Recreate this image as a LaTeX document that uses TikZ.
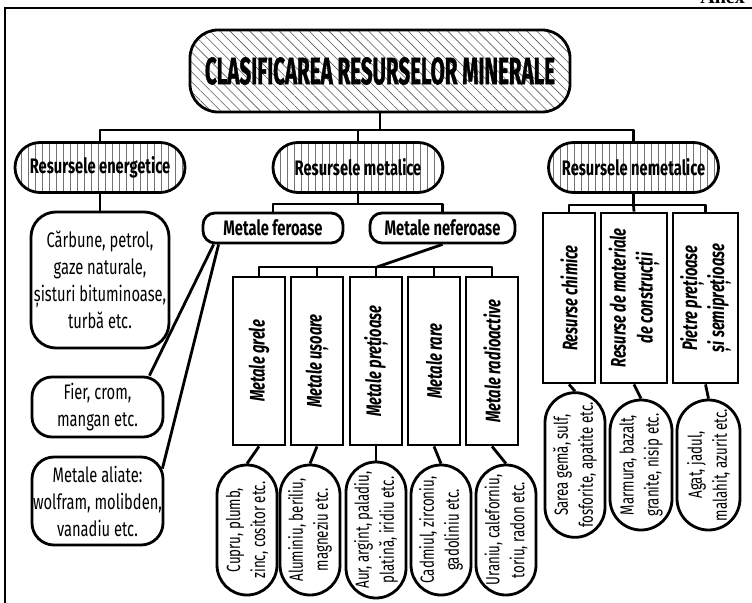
\documentclass[tikz,border=0pt]{standalone}
\usepackage{fontspec}
\setmainfont{Fira Sans}[FakeStretch=0.7]
\newfontfamily\titlefont{Fira Sans}[FakeStretch=0.7,FakeBold=1.2]
\newfontfamily\anexfont{Liberation Serif}
\usetikzlibrary{shapes.misc,patterns.meta,calc,backgrounds}

\newcommand\mainsz{\fontsize{21bp}{27bp}\selectfont}
\newcommand\pillsz{\fontsize{19bp}{25bp}\selectfont}

\begin{document}
\begin{tikzpicture}[x=1bp,y=-1bp,
  line width=2.8bp,
  conn/.style={line width=2.8bp, line join=round},
  hatchd/.style={preaction={fill=white},
    pattern={Lines[angle=-45,distance=7bp,line width=0.6bp]}, pattern color=black!65},
  hatchv/.style={preaction={fill=white},
    pattern={Lines[angle=90,distance=7bp,line width=0.6bp]}, pattern color=black!55},
  titlebox/.style={draw, rounded corners=28bp, minimum width=380bp,
    minimum height=82bp, inner sep=0pt, hatchd},
  catbox/.style={rounded rectangle, draw, minimum width=170bp, minimum height=50bp,
    inner sep=0pt, hatchv, font=\mainsz\bfseries},
  subbox/.style={draw, fill=white, rounded corners=12bp, minimum width=140bp,
    minimum height=30bp, inner sep=0pt, font=\mainsz\bfseries},
  listbox/.style={draw, fill=white, rounded corners=22bp, align=center,
    inner sep=0pt, font=\mainsz},
  vbox/.style={draw, fill=white, rotate=90, minimum width=168bp,
    minimum height=52bp, inner sep=0pt, align=center, font=\mainsz\bfseries\itshape},
  pill/.style={rounded rectangle, draw, fill=white, rotate=90, minimum width=130bp,
    minimum height=60bp, inner sep=0pt, align=center, font=\pillsz},
  frameline/.style={line width=1.6bp}
]
\useasboundingbox (0,0) rectangle (752,603);

% page frame and header
\draw[frameline] (4,8) -- (752,8);
\draw[frameline] (5,8) -- (5,603);
\node[anchor=base west, inner sep=0pt, font=\anexfont\bfseries\fontsize{20bp}{20bp}\selectfont] (anex) at (699,4) {Anex};

% title
\node[titlebox] (title) at (380,71)
  {\resizebox{350bp}{27bp}{\titlefont\bfseries CLASIFICAREA RESURSELOR MINERALE}};

% main categories
\node[catbox] (en) at (100,167.5) {Resursele energetice};
\node[catbox] (me) at (358,167.5) {Resursele metalice};
\node[catbox] (nm) at (633.5,167.5) {Resursele nemetalice};

% energy resources
\node[listbox, minimum width=138bp, minimum height=136bp, rounded corners=25bp] (carb) at (100,280)
  {Cărbune, petrol,\\gaze naturale,\\șisturi bituminoase,\\turbă etc.};

% metallic resources
\node[subbox] (fer) at (273,228) {Metale feroase};
\node[subbox, minimum width=145bp] (nef) at (442.5,228) {Metale neferoase};

\node[listbox, minimum width=131bp, minimum height=60bp, rounded corners=20bp] (fier) at (97.5,407)
  {Fier, crom,\\mangan etc.};
\node[listbox, minimum width=131bp, minimum height=88bp] (aliate) at (97.5,501)
  {Metale aliate:\\wolfram, molibden,\\vanadiu etc.};

\node[vbox] (g1) at (259,361) {Metale grele};
\node[vbox] (g2) at (317,361) {Metale ușoare};
\node[vbox] (g3) at (376,361) {Metale prețioase};
\node[vbox] (g4) at (434,361) {Metale rare};
\node[vbox] (g5) at (492,361) {Metale radioactive};

\node[pill] (p1) at (247,530) {Cupru, plumb,\\zinc, cositor etc.};
\node[pill] (p2) at (310,530) {Aluminiu, beriliu,\\magneziu etc.};
\node[pill] (p3) at (376,530) {Aur, argint, paladiu,\\platină, iridiu etc.};
\node[pill] (p4) at (441,530) {Cadmiul, zirconiu,\\gadoliniu etc.};
\node[pill] (p5) at (506,530) {Uraniu, caleforniu,\\toriu, radon etc.};

% non-metallic resources
\node[vbox, minimum width=170bp, minimum height=52bp] (n1) at (569,298) {Resurse chimice};
\node[vbox, minimum width=170bp, minimum height=66bp] (n2) at (634,298) {Resurse de materiale\\de construcții};
\node[vbox, minimum width=170bp, minimum height=65bp] (n3) at (705.5,298) {Pietre prețioase\\și semiprețioase};

\node[pill] (q1) at (575,465) {Sarea gemă, sulf,\\fosforite, apatite etc.};
\node[pill, minimum height=62bp] (q2) at (641,465) {Marmura, bazalt,\\granite, nisip etc.};
\node[pill, minimum height=63bp] (q3) at (708.5,465) {Agat, jadul,\\malahit, azurit etc.};

% connectors
\begin{scope}[on background layer, conn]
  \coordinate (b1) at (380,130);
  \draw[conn] (title.south) -- (b1);
  \draw[conn] (en.north) |- (b1) -| (nm.north);
  \draw[conn] (me.north) -- (me.north |- b1);

  \draw[conn] (en.south) -- (carb.north);

  \coordinate (b2) at ($(me.south)+(0,10)$);
  \draw[conn] (me.south) -- (b2);
  \draw[conn] (fer.north) |- (b2) -| (nef.north);

  \draw[conn] ($(fer.south west)+(12,0)$) -- ($(fier.north east)+(-15,0)$);
  \draw[conn] ($(fer.south west)+(17,0)$) -- ($(aliate.north east)+(-2,13)$);

  \coordinate (b3) at (377,267);
  \draw[conn] (nef.south) -- (b3);
  \draw[conn] (g1.east) |- (b3) -| (g5.east);
  \foreach \i in {2,3,4} {\draw[conn] (g\i.east) -- (g\i.east |- b3);}
  \foreach \i in {1,...,5} {\draw[conn] (g\i.west) -- (p\i.east);}

  \coordinate (b4) at ($(nm.south)+(0,11)$);
  \draw[conn] (nm.south) -- (b4);
  \draw[conn] (n1.east) |- (b4) -| (n3.east);
  \draw[conn] (b4) -- (n2.east);
  \foreach \i in {1,2,3} {\draw[conn] (n\i.west) -- (q\i.east);}
\end{scope}
\end{tikzpicture}
\end{document}
